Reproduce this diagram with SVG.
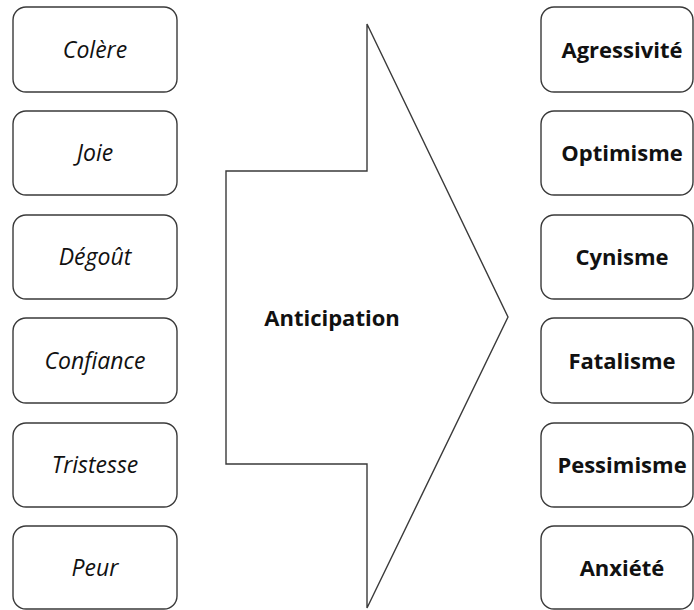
<svg xmlns="http://www.w3.org/2000/svg" width="694" height="610" viewBox="0 0 694 610">
<style>
.box{fill:#fff;stroke:#3a3a3a;stroke-width:1.4}
.it{font-family:"Open Sans","Liberation Sans",sans-serif;font-style:italic;font-size:23px;fill:#111;text-anchor:middle}
.bd{font-family:"Open Sans","Liberation Sans",sans-serif;font-weight:bold;font-size:22px;fill:#111;text-anchor:middle}
</style>
<rect width="694" height="610" fill="#fff"/>
<g id="arrow">
<path d="M226,171 H367 V24 L508,317 L367,608 V464 H226 Z" fill="#fff" stroke="#3a3a3a" stroke-width="1.4" stroke-linejoin="miter"/>
<text class="bd" x="332" y="326">Anticipation</text>
</g>
<g id="colere"><rect class="box" x="13" y="7" width="164" height="85" rx="13"/><text class="it" x="95" y="58">Colère</text></g>
<g id="joie"><rect class="box" x="13" y="111" width="164" height="84" rx="13"/><text class="it" x="95" y="161">Joie</text></g>
<g id="degout"><rect class="box" x="13" y="215" width="164" height="84" rx="13"/><text class="it" x="95" y="265">Dégoût</text></g>
<g id="confiance"><rect class="box" x="13" y="318" width="164" height="85" rx="13"/><text class="it" x="95" y="369">Confiance</text></g>
<g id="tristesse"><rect class="box" x="13" y="423" width="164" height="84" rx="13"/><text class="it" x="95" y="473">Tristesse</text></g>
<g id="peur"><rect class="box" x="13" y="526" width="164" height="83" rx="13"/><text class="it" x="95" y="576">Peur</text></g>
<g id="agressivite"><rect class="box" x="541" y="7" width="152" height="85" rx="13"/><text class="bd" x="622" y="58">Agressivité</text></g>
<g id="optimisme"><rect class="box" x="541" y="111" width="152" height="84" rx="13"/><text class="bd" x="622" y="161">Optimisme</text></g>
<g id="cynisme"><rect class="box" x="541" y="215" width="152" height="84" rx="13"/><text class="bd" x="622" y="265">Cynisme</text></g>
<g id="fatalisme"><rect class="box" x="541" y="318" width="152" height="85" rx="13"/><text class="bd" x="622" y="369">Fatalisme</text></g>
<g id="pessimisme"><rect class="box" x="541" y="423" width="152" height="84" rx="13"/><text class="bd" x="622" y="473">Pessimisme</text></g>
<g id="anxiete"><rect class="box" x="541" y="526" width="152" height="83" rx="13"/><text class="bd" x="622" y="576">Anxiété</text></g>
<g id="connectors"></g>
</svg>
